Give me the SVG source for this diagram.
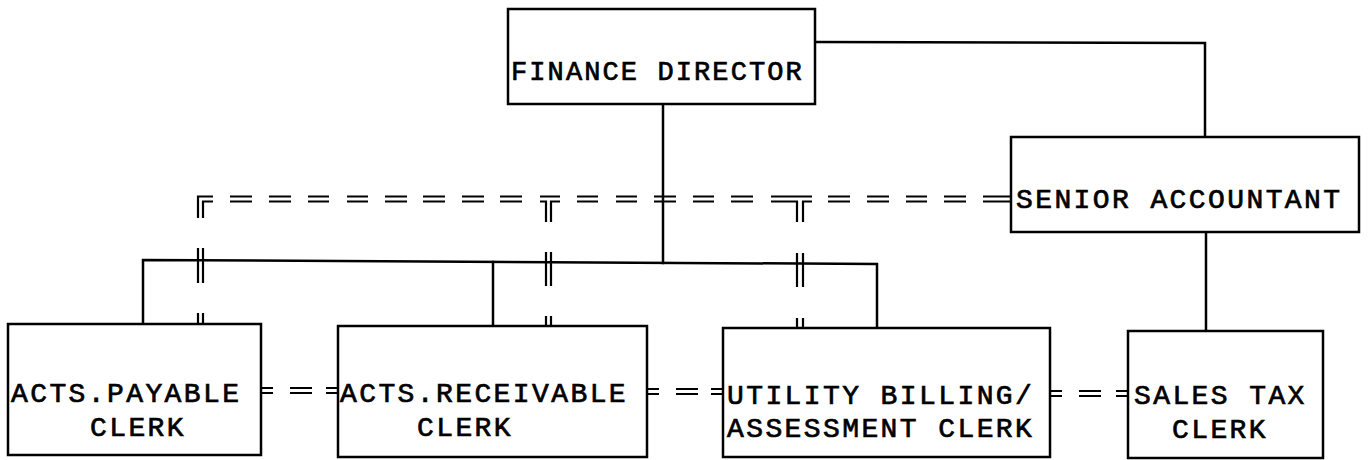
<svg xmlns="http://www.w3.org/2000/svg" width="1368" height="460" viewBox="0 0 1368 460">
<style>
.box{fill:#fff;stroke:#000;stroke-width:2.5}
.ln{fill:none;stroke:#000;stroke-width:2.5;stroke-linecap:square}
.dl{fill:none;stroke:#000;stroke-width:2.2;stroke-linecap:butt}
.t{font-family:"Courier New","Nimbus Mono PS","FreeMono","Liberation Mono",monospace;font-size:28px;letter-spacing:2.4px;fill:#000;stroke:#000;stroke-width:0.7px}
.fd{font-size:27px;letter-spacing:2.1px}
</style>
<rect width="1368" height="460" fill="#fff"/>
<g id="connectors">
  <path class="ln" d="M815 42 L1205 43 L1205 137"/>
  <path class="ln" d="M663 104 L663 263"/>
  <path class="ln" d="M143 324 L143 260 L877 264 L877 328"/>
  <path class="ln" d="M493 262 L493 326"/>
  <path class="ln" d="M1206 232 L1206 331"/>
  <path class="dl" d="M198 218 V196.5 H213 M203 218 V201.5 H213
    M230 196.5 h22 M230 201.5 h22
    M269 196.5 h22 M269 201.5 h22
    M308 196.5 h21 M308 201.5 h21
    M347 196.5 h21 M347 201.5 h21
    M385 196.5 h22 M385 201.5 h22
    M423 196.5 h22 M423 201.5 h22
    M462 196.5 h22 M462 201.5 h22
    M500 196.5 h22 M500 201.5 h22
    M540 196.5 H560 M540 201.5 H546 V222 M560 201.5 H551 V222
    M577 196.5 H598 M577 201.5 H598
    M616 196.5 h21 M616 201.5 h21
    M654 196.5 h22 M654 201.5 h22
    M693 196.5 h21 M693 201.5 h21
    M731 196.5 h22 M731 201.5 h22
    M771 196.5 H812 M771 201.5 H797 V222 M812 201.5 H803 V222
    M828 196.5 h22 M828 201.5 h22
    M867 196.5 h22 M867 201.5 h22
    M906 196.5 h21 M906 201.5 h21
    M944 196.5 h22 M944 201.5 h22
    M983 196.5 H1011 M983 201.5 H1011"/>
  <path class="dl" d="M198 248 V283 M203 248 V283 M198 313 V324 M203 313 V324
    M546 252 V286 M551 252 V286 M546 316 V326 M551 316 V326
    M797 253 V287 M803 253 V287 M797 318 V328 M803 318 V328"/>
  <path class="dl" d="M261 388 h12 M261 393 h12 M290 388 h22 M290 393 h22 M326 388 h12 M326 393 h12
    M647 389 h12 M647 394 h12 M676 389 h22 M676 394 h22 M711 389 h12 M711 394 h12
    M1050 391 h12 M1050 396 h12 M1079 391 h22 M1079 396 h22 M1116 391 h12 M1116 396 h12"/>
</g>
<g id="finance-director">
  <rect class="box" x="508" y="9" width="307" height="95"/>
  <text class="t fd" x="511" y="80">FINANCE DIRECTOR</text>
</g>
<g id="senior-accountant">
  <rect class="box" x="1011" y="137" width="348" height="95"/>
  <text class="t" x="1016" y="208">SENIOR ACCOUNTANT</text>
</g>
<g id="acts-payable-clerk">
  <rect class="box" x="8" y="324" width="253" height="131"/>
  <text class="t" x="11" y="402">ACTS.PAYABLE</text>
  <text class="t" x="90" y="436">CLERK</text>
</g>
<g id="acts-receivable-clerk">
  <rect class="box" x="338" y="326" width="309" height="131"/>
  <text class="t" x="340" y="402">ACTS.RECEIVABLE</text>
  <text class="t" x="417" y="436">CLERK</text>
</g>
<g id="utility-billing-clerk">
  <rect class="box" x="723" y="328" width="327" height="129"/>
  <text class="t" x="727" y="404">UTILITY BILLING/</text>
  <text class="t" x="727" y="437">ASSESSMENT CLERK</text>
</g>
<g id="sales-tax-clerk">
  <rect class="box" x="1128" y="331" width="195" height="127"/>
  <text class="t" x="1134" y="404">SALES TAX</text>
  <text class="t" x="1172" y="438">CLERK</text>
</g>
</svg>
